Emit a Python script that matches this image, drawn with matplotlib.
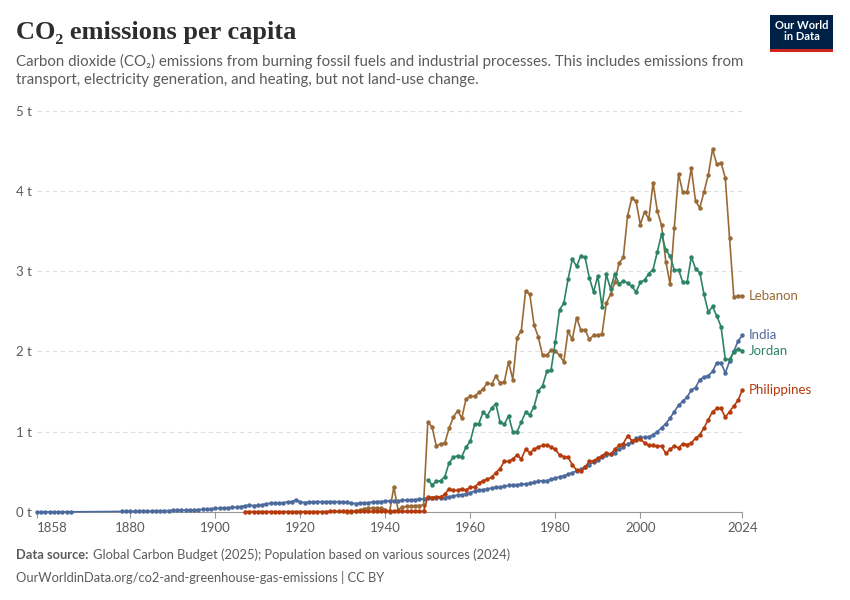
import matplotlib
matplotlib.use("Agg")
import matplotlib.pyplot as plt
from matplotlib.patches import Rectangle

# --- data (tonnes CO2 per person) ---
india_years = list(range(1858, 1867)) + list(range(1878, 2025))
india_values = [0.002] * 9 + [
    0.006, 0.006, 0.007, 0.008, 0.009, 0.010, 0.011, 0.012, 0.013, 0.015,
    0.016, 0.017, 0.019, 0.021, 0.022, 0.023, 0.025, 0.027, 0.030, 0.032,
    0.035, 0.040, 0.044, 0.047, 0.050, 0.053, 0.056, 0.060, 0.068, 0.078,
    0.085, 0.080, 0.082, 0.090, 0.100, 0.110, 0.112, 0.110, 0.115, 0.125,
    0.130, 0.150, 0.125, 0.118, 0.122, 0.125, 0.130, 0.128, 0.128, 0.130,
    0.128, 0.128, 0.127, 0.120, 0.110, 0.105, 0.112, 0.115, 0.115, 0.125,
    0.130, 0.130, 0.135, 0.140, 0.132, 0.140, 0.145, 0.150, 0.150, 0.155,
    0.160, 0.165,
    # 1950-1999
    0.17, 0.17, 0.175, 0.175, 0.18, 0.19, 0.20, 0.21, 0.215, 0.225,
    0.24, 0.26, 0.27, 0.28, 0.285, 0.30, 0.305, 0.31, 0.32, 0.33,
    0.33, 0.34, 0.345, 0.35, 0.355, 0.37, 0.38, 0.39, 0.39, 0.41,
    0.42, 0.44, 0.45, 0.47, 0.49, 0.51, 0.53, 0.56, 0.59, 0.62,
    0.65, 0.68, 0.71, 0.72, 0.74, 0.78, 0.81, 0.85, 0.87, 0.92,
    # 2000-2024
    0.93, 0.93, 0.94, 0.96, 1.00, 1.05, 1.10, 1.17, 1.25, 1.33,
    1.38, 1.43, 1.52, 1.55, 1.65, 1.68, 1.70, 1.75, 1.86, 1.86,
    1.73, 1.88, 2.00, 2.13, 2.20,
]

jordan_years = list(range(1950, 2025))
jordan_values = [
    0.40, 0.34, 0.38, 0.39, 0.44, 0.61, 0.68, 0.70, 0.69, 0.81,
    0.88, 1.09, 1.10, 1.24, 1.20, 1.29, 1.35, 1.12, 1.09, 1.20,
    1.00, 1.00, 1.12, 1.24, 1.21, 1.31, 1.51, 1.57, 1.75, 1.77,
    2.12, 2.52, 2.60, 2.90, 3.15, 3.06, 3.19, 3.17, 2.92, 2.74,
    2.94, 2.55, 2.96, 2.78, 2.97, 2.84, 2.88, 2.85, 2.81, 2.74,
    2.86, 2.89, 2.97, 3.02, 3.24, 3.46, 3.26, 3.19, 3.01, 3.02,
    2.86, 2.86, 3.18, 3.03, 2.98, 2.71, 2.49, 2.56, 2.44, 2.31,
    1.90, 1.90, 1.99, 2.03, 2.01,
]

lebanon_years = list(range(1931, 2025))
lebanon_values = [
    0.00, 0.005, 0.01, 0.02, 0.04, 0.05, 0.05, 0.05, 0.05, 0.03,
    0.00, 0.31, 0.03, 0.06, 0.07, 0.07, 0.08, 0.08, 0.09,
    # 1950-1999
    1.12, 1.06, 0.82, 0.85, 0.86, 1.04, 1.18, 1.26, 1.17, 1.41,
    1.44, 1.44, 1.49, 1.53, 1.61, 1.59, 1.69, 1.61, 1.62, 1.87,
    1.65, 2.17, 2.26, 2.75, 2.71, 2.33, 2.18, 1.95, 1.95, 2.02,
    2.01, 1.95, 1.87, 2.25, 2.15, 2.42, 2.27, 2.27, 2.15, 2.20,
    2.20, 2.22, 2.60, 2.71, 2.86, 3.10, 3.17, 3.69, 3.91, 3.87,
    # 2000-2024
    3.58, 3.74, 3.65, 4.10, 3.75, 3.57, 3.12, 2.84, 3.54, 4.21,
    3.98, 3.98, 4.28, 3.87, 3.79, 3.99, 4.20, 4.52, 4.33, 4.35,
    4.16, 3.41, 2.68, 2.69, 2.69,
]

philippines_years = list(range(1907, 2025))
philippines_values = [0.005] * 20 + [0.008] * 23 + [
    # 1950-1999
    0.19, 0.18, 0.19, 0.19, 0.22, 0.29, 0.27, 0.27, 0.29, 0.27,
    0.31, 0.31, 0.36, 0.39, 0.41, 0.43, 0.49, 0.54, 0.63, 0.63,
    0.66, 0.71, 0.66, 0.78, 0.74, 0.78, 0.81, 0.83, 0.83, 0.81,
    0.78, 0.71, 0.69, 0.68, 0.59, 0.52, 0.51, 0.56, 0.63, 0.64,
    0.67, 0.70, 0.74, 0.72, 0.78, 0.83, 0.85, 0.95, 0.89, 0.90,
    # 2000-2024
    0.91, 0.86, 0.83, 0.83, 0.82, 0.82, 0.73, 0.78, 0.82, 0.80,
    0.85, 0.84, 0.86, 0.92, 0.96, 1.05, 1.15, 1.25, 1.29, 1.29,
    1.18, 1.25, 1.32, 1.39, 1.52,
]

series = [
    ("Lebanon", lebanon_years, lebanon_values, "#9A6A36"),
    ("India", india_years, india_values, "#4C6A9C"),
    ("Jordan", jordan_years, jordan_values, "#2C8465"),
    ("Philippines", philippines_years, philippines_values, "#B53A0C"),
]
x_ticks = [1858, 1880, 1900, 1920, 1940, 1960, 1980, 2000, 2024]
y_ticks = [0, 1, 2, 3, 4, 5]

plt.rcParams["font.family"] = ["Lato", "DejaVu Sans"]
grey = "#5b5b5b"

fig = plt.figure(figsize=(8.5, 6), dpi=100)
ax = fig.add_axes([0.0433, 0.1467, 0.83, 0.669])

for name, yrs, vals, color in series:
    ax.plot(yrs, vals, color=color, lw=1.2, marker="o", ms=2.2,
            clip_on=False, zorder=3)
    ax.annotate(name, xy=(yrs[-1], vals[-1]), xytext=(5, 0),
                textcoords="offset points", va="center", ha="left",
                color=color, fontsize=9.5, annotation_clip=False)

ax.set_xlim(1858, 2024)
ax.set_ylim(0, 5)
ax.set_xticks(x_ticks)
ax.set_yticks(y_ticks)
ax.set_yticklabels([f"{v} t" for v in y_ticks])
for lab in ax.get_yticklabels():
    lab.set_horizontalalignment("left")
ax.tick_params(axis="y", length=0, pad=15, labelsize=9.5, labelcolor=grey)
ax.tick_params(axis="x", length=4, color="#999999", labelsize=9.5,
               labelcolor=grey, pad=3)
ax.get_xticklabels()[0].set_horizontalalignment("left")

ax.grid(axis="y", color="#dddddd", ls=(0, (4, 3)), lw=0.8)
ax.set_axisbelow(True)
for side in ["top", "right", "left"]:
    ax.spines[side].set_visible(False)
ax.spines["bottom"].set_color("#999999")

# titles
fig.text(0.019, 0.945, "CO\u2082 emissions per capita", fontsize=19,
         family=["Liberation Serif", "DejaVu Serif"], weight="bold",
         color="#2d2d2d", va="center")
fig.text(0.019, 0.898, "Carbon dioxide (CO\u2082) emissions from burning fossil fuels "
         "and industrial processes. This includes emissions from", fontsize=10.8,
         color=grey, va="center")
fig.text(0.019, 0.866, "transport, electricity generation, and heating, but not "
         "land-use change.", fontsize=10.8, color=grey, va="center")

# footer
src = fig.text(0.019, 0.075, "Data source:", fontsize=9.3, weight="bold",
               color=grey, va="center")
ax.annotate("Global Carbon Budget (2025); Population based on various sources (2024)",
            xy=(1, 0.5), xycoords=src, xytext=(3, 0), textcoords="offset points",
            fontsize=9.3, color=grey, va="center", annotation_clip=False)
fig.text(0.019, 0.038, "OurWorldinData.org/co2-and-greenhouse-gas-emissions | CC BY",
         fontsize=9.3, color=grey, va="center")

# logo
fig.patches.append(Rectangle((0.906, 0.913), 0.074, 0.062, transform=fig.transFigure,
                             facecolor="#002147", edgecolor="none"))
fig.patches.append(Rectangle((0.906, 0.913), 0.074, 0.006, transform=fig.transFigure,
                             facecolor="#ce261e", edgecolor="none"))
fig.text(0.943, 0.948, "Our World\nin Data", color="white", fontsize=8,
         weight="bold", ha="center", va="center", linespacing=1.0)

fig.savefig("out.png", dpi=100)
